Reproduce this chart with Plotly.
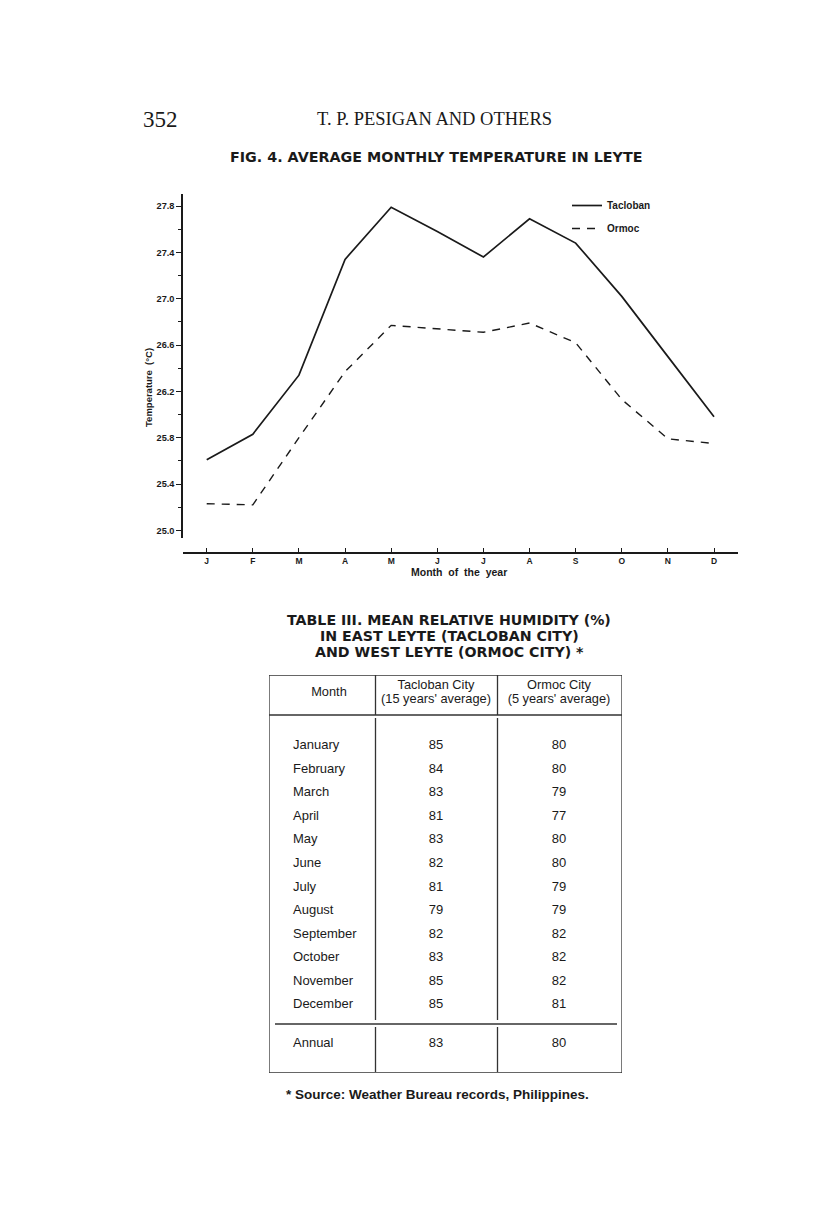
import plotly.graph_objects as go

# figure sits at the page's 8px body margin; keep it inside the 816x1208 window
OFF = 8
W, H = 800, 1190

# ---------------- data ----------------
month_ticks = ["J", "F", "M", "A", "M", "J", "J", "A", "S", "O", "N", "D"]
tacloban_temp = [25.61, 25.83, 26.34, 27.34, 27.79, 27.58, 27.36, 27.69, 27.48, 27.02, 26.50, 25.98]
ormoc_temp = [25.23, 25.22, 25.80, 26.37, 26.77, 26.74, 26.71, 26.79, 26.62, 26.13, 25.79, 25.75]

months_full = ["January", "February", "March", "April", "May", "June", "July",
               "August", "September", "October", "November", "December"]
tacloban_rh = [85, 84, 83, 81, 83, 82, 81, 79, 82, 83, 85, 85]
ormoc_rh = [80, 80, 79, 77, 80, 80, 79, 79, 82, 82, 82, 81]
annual_label = "Annual"
tacloban_annual = 83
ormoc_annual = 80

# ---------------- helpers (page pixel -> paper fraction) ----------------
def px_x(px):
    return (px - OFF) / W

def px_y(py):
    return 1 - (py - OFF) / H

INK = "#1a1a1a"
SANS = "Liberation Sans, Arial, sans-serif"
WIDE = "DejaVu Sans, Verdana, sans-serif"
SERIF = "Liberation Serif, Times New Roman, serif"

fig = go.Figure()

xs = list(range(len(month_ticks)))
fig.add_trace(go.Scatter(x=xs, y=tacloban_temp, mode="lines", name="Tacloban",
                         line=dict(color=INK, width=1.7), legendgroup="t",
                         xaxis="x", yaxis="y"))
fig.add_trace(go.Scatter(x=xs, y=ormoc_temp, mode="lines", name="Ormoc",
                         line=dict(color=INK, width=1.4, dash="8px,7px"), legendgroup="o",
                         xaxis="x", yaxis="y"))

# ---------------- table (on its own hidden axes, pixel-like units) ----------------
TL, TR, TT, TB = 269, 622, 675, 1073
row0, rstep = 71, 23.55
row_y = [row0 + i * rstep for i in range(len(months_full))]
annual_y = 369
col_month_x, col_t_x, col_o_x = 24, 167, 290
tfont = dict(family=SANS, size=13, color=INK)

fig.add_trace(go.Scatter(x=[col_month_x] * (len(months_full) + 1),
                         y=row_y + [annual_y], text=months_full + [annual_label],
                         mode="text", textposition="middle right", textfont=tfont,
                         showlegend=False, hoverinfo="skip", xaxis="x2", yaxis="y2"))
fig.add_trace(go.Scatter(x=[col_t_x] * (len(tacloban_rh) + 1),
                         y=row_y + [annual_y], text=[str(v) for v in tacloban_rh] + [str(tacloban_annual)],
                         mode="text", textposition="middle center", textfont=tfont,
                         showlegend=False, hoverinfo="skip", xaxis="x2", yaxis="y2"))
fig.add_trace(go.Scatter(x=[col_o_x] * (len(ormoc_rh) + 1),
                         y=row_y + [annual_y], text=[str(v) for v in ormoc_rh] + [str(ormoc_annual)],
                         mode="text", textposition="middle center", textfont=tfont,
                         showlegend=False, hoverinfo="skip", xaxis="x2", yaxis="y2"))
# header
fig.add_trace(go.Scatter(x=[60, col_t_x, col_t_x, col_o_x, col_o_x],
                         y=[18, 11, 25, 11, 25],
                         text=["Month", "Tacloban City", "(15 years' average)",
                               "Ormoc City", "(5 years' average)"],
                         mode="text", textposition="middle center",
                         textfont=dict(family=SANS, size=12.8, color=INK),
                         showlegend=False, hoverinfo="skip", xaxis="x2", yaxis="y2"))

shapes = []
lc = dict(color="#333", width=1.3)
def seg(x0, y0, x1, y1, line=lc):
    shapes.append(dict(type="line", xref="x2", yref="y2", x0=x0, y0=y0, x1=x1, y1=y1, line=line))

tw, th = TR - TL, TB - TT
seg(0, 0, tw, 0)
seg(0, th, tw, th)
seg(0, 0, 0, th)
seg(tw, 0, tw, th)
seg(0, 40, tw, 40)
seg(6, 349, tw - 5, 349)
for cx in (106.5, 228.5):
    seg(cx, 0, cx, 40)
    seg(cx, 43, cx, 345)
    seg(cx, 352, cx, 397)

# ---------------- annotations (page text) ----------------
ann = []
def note(text, x, y, font, **kw):
    d = dict(text=text, x=px_x(x), y=px_y(y), xref="paper", yref="paper",
             xanchor="center", yanchor="middle", showarrow=False, font=font)
    d.update(kw)
    ann.append(d)

note("352", 160, 119, dict(family=SERIF, size=23, color=INK))
note("T. P. PESIGAN AND OTHERS", 435, 119, dict(family=SERIF, size=18.5, color=INK))
note("FIG. 4. AVERAGE MONTHLY TEMPERATURE IN LEYTE", 436, 157,
     dict(family=WIDE, size=14.3, color=INK, weight="bold"))
note("Temperature  (°C)", 149, 388, dict(family=SANS, size=9.5, color=INK, weight="bold"),
     textangle=-90)
note("Month  of  the  year", 459, 572, dict(family=SANS, size=10.5, color=INK, weight="bold"))
for i, line in enumerate(["TABLE III. MEAN RELATIVE HUMIDITY (%)",
                          "IN EAST LEYTE (TACLOBAN CITY)",
                          "AND WEST LEYTE (ORMOC CITY) *"]):
    note(line, 449, 620 + 16 * i, dict(family=WIDE, size=14.2, color=INK, weight="bold"))
note("* Source: Weather Bureau records, Philippines.", 437, 1094,
     dict(family=SANS, size=13.5, color=INK, weight="bold"))

fig.update_layout(
    width=W, height=H, margin=dict(l=0, r=0, t=0, b=0),
    paper_bgcolor="white", plot_bgcolor="rgba(0,0,0,0)",
    showlegend=True,
    legend=dict(x=px_x(567), y=px_y(191), xanchor="left", yanchor="top",
                bgcolor="rgba(0,0,0,0)", traceorder="grouped", tracegroupgap=4,
                font=dict(family=SANS, size=10, color=INK, weight="bold")),
    xaxis=dict(domain=[px_x(183), px_x(738)], range=[-0.514, 11.52],
               anchor="free", position=px_y(552.7),
               tickmode="array", tickvals=xs, ticktext=month_ticks,
               ticks="inside", ticklen=4, tickwidth=1.2, tickcolor=INK,
               showline=True, linecolor=INK, linewidth=2, showgrid=False, zeroline=False,
               tickfont=dict(family=SANS, size=8.5, color=INK, weight="bold")),
    yaxis=dict(domain=[px_y(538), px_y(194)], range=[24.934, 27.904],
               anchor="x", tick0=25.0, dtick=0.4, tickformat=".1f",
               ticks="outside", ticklen=5, tickwidth=1.3, tickcolor=INK,
               minor=dict(dtick=0.2, tick0=25.0, ticks="outside", ticklen=3, tickwidth=1, tickcolor=INK),
               showline=True, linecolor=INK, linewidth=1.5, showgrid=False, zeroline=False,
               tickfont=dict(family=SANS, size=9.2, color=INK, weight="bold")),
    xaxis2=dict(domain=[px_x(TL), px_x(TR)], range=[0, TR - TL], anchor="y2",
                visible=False, showgrid=False, zeroline=False),
    yaxis2=dict(domain=[px_y(TB), px_y(TT)], range=[TB - TT, 0], anchor="x2",
                visible=False, showgrid=False, zeroline=False),
    shapes=shapes, annotations=ann,
)

fig.write_html("out.html")
